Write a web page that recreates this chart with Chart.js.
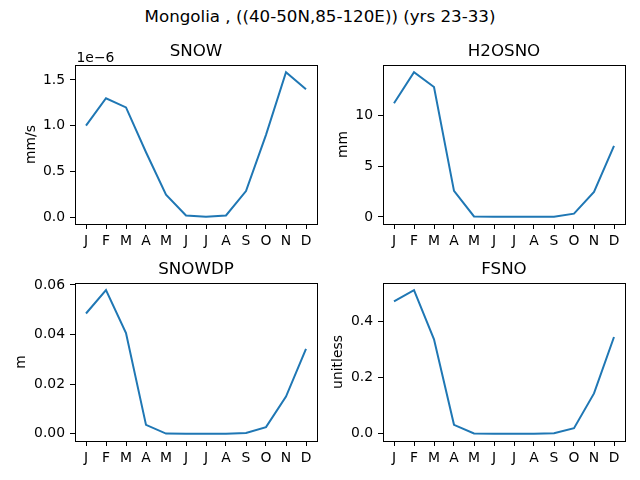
<!DOCTYPE html>
<html>
<head>
<meta charset="utf-8">
<script src="https://cdn.jsdelivr.net/npm/chart.js@4.4.1/dist/chart.umd.min.js"></script>
<style>
  html, body { margin: 0; padding: 0; background: #fff; }
  body { width: 640px; height: 480px; position: relative; overflow: hidden; font-family: 'DejaVu Sans', sans-serif; }
  #suptitle { position: absolute; left: 0; top: 6px; width: 640px; text-align: center; font-size: 16.7px; line-height: 20px; color: #000; }
  canvas { position: absolute; }
</style>
</head>
<body>
<div id="suptitle">Mongolia , ((40-50N,85-120E)) (yrs 23-33)</div>
<canvas id="snowChart"></canvas>
<canvas id="h2osnoChart"></canvas>
<canvas id="snowdpChart"></canvas>
<canvas id="fsnoChart"></canvas>
<script>
// months on the x axis
const months = ['J', 'F', 'M', 'A', 'M', 'J', 'J', 'A', 'S', 'O', 'N', 'D'];

// values
const snow   = [1.00e-6, 1.30e-6, 1.20e-6, 0.71e-6, 0.245e-6, 0.018e-6, 0.004e-6, 0.018e-6, 0.285e-6, 0.90e-6, 1.585e-6, 1.40e-6];
const h2osno = [11.2, 14.25, 12.8, 2.57, 0.05, 0.02, 0.02, 0.02, 0.03, 0.33, 2.47, 7.0];
const snowdp = [0.0485, 0.0579, 0.0406, 0.0036, 0.0001, 0.0, 0.0, 0.0, 0.0003, 0.0027, 0.015, 0.0342];
const fsno   = [0.472, 0.512, 0.337, 0.032, 0.001, 0.0, 0.0, 0.0, 0.002, 0.02, 0.144, 0.345];

// tick labels
const snowTicks   = [0, 0.5e-6, 1.0e-6, 1.5e-6];
const snowLabels  = ['0.0', '0.5', '1.0', '1.5'];
const h2osnoTicks = [0, 5, 10];
const h2osnoLabels = ['0', '5', '10'];
const snowdpTicks = [0, 0.02, 0.04, 0.06];
const snowdpLabels = ['0.00', '0.02', '0.04', '0.06'];
const fsnoTicks   = [0, 0.2, 0.4];
const fsnoLabels  = ['0.0', '0.2', '0.4'];

Chart.defaults.font.family = "'DejaVu Sans'";
Chart.defaults.font.size = 13.9;
Chart.defaults.color = '#000';

// frame, subplot title and offset text like matplotlib axes
const axesDeco = {
  id: 'axesDeco',
  afterDraw(chart, args, opts) {
    const ctx = chart.ctx, a = chart.chartArea;
    ctx.save();
    ctx.strokeStyle = '#000';
    ctx.lineWidth = 1;
    const l = Math.round(a.left) + 0.5, t = Math.round(a.top) + 0.5;
    const r = Math.round(a.right) + 0.5, b = Math.round(a.bottom) + 0.5;
    ctx.strokeRect(l, t, r - l, b - t);
    ctx.fillStyle = '#000';
    ctx.font = "16.7px 'DejaVu Sans'";
    ctx.textAlign = 'center';
    ctx.textBaseline = 'middle';
    ctx.fillText(opts.title, (a.left + a.right) / 2, a.top - 13.5);
    if (opts.offsetText) {
      ctx.font = "13.9px 'DejaVu Sans'";
      ctx.textAlign = 'left';
      ctx.textBaseline = 'alphabetic';
      ctx.fillText(opts.offsetText, a.left + 1.5, a.top - 3);
    }
    ctx.restore();
  }
};

function makePanel(id, box, title, unit, values, ticks, labels, offsetText) {
  const xH = 30, topH = 29, padR = 4;
  const L = Math.round(box.labelX - 8.35);
  const yW = box.left - L;
  const top = box.top - topH;
  const cv = document.getElementById(id);
  cv.width = box.right - L + padR;
  cv.height = box.bottom - top + xH;
  cv.style.left = L + 'px';
  cv.style.top = top + 'px';

  const lo = Math.min(...values), hi = Math.max(...values);
  const m = (hi - lo) * 0.05;

  new Chart(cv, {
    type: 'line',
    data: {
      datasets: [{
        data: values.map((v, i) => ({ x: i, y: v })),
        borderColor: '#1f77b4',
        borderWidth: 2,
        pointRadius: 0,
        tension: 0,
        fill: false
      }]
    },
    options: {
      responsive: false,
      animation: false,
      layout: { padding: { top: topH, right: padR, left: 0, bottom: 0 } },
      plugins: {
        legend: { display: false },
        tooltip: { enabled: false },
        axesDeco: { title: title, offsetText: offsetText }
      },
      scales: {
        x: {
          type: 'linear',
          min: -0.55,
          max: months.length - 1 + 0.55,
          afterBuildTicks: s => { s.ticks = months.map((mm, i) => ({ value: i })); },
          afterFit: s => { s.height = xH; },
          ticks: { autoSkip: false, maxRotation: 0, padding: 4, callback: v => months[v] },
          grid: { display: true, drawOnChartArea: false, drawTicks: true, tickLength: 5, color: '#000', lineWidth: 1 },
          border: { display: false }
        },
        y: {
          min: lo - m,
          max: hi + m,
          afterBuildTicks: s => { s.ticks = ticks.map(v => ({ value: v })); },
          afterFit: s => { s.width = yW; },
          ticks: { padding: 5, callback: (v, i) => labels[i] },
          grid: { display: true, drawOnChartArea: false, drawTicks: true, tickLength: 5, color: '#000', lineWidth: 1 },
          border: { display: false },
          title: { display: true, text: unit, padding: 0, font: { size: 13.9, lineHeight: 1.2 } }
        }
      }
    },
    plugins: [axesDeco]
  });
}

makePanel('snowChart',   { left: 75,  right: 317, top: 65,  bottom: 224, labelX: 31.5 }, 'SNOW',   'mm/s',     snow,   snowTicks,   snowLabels, '1e\u22126');
makePanel('h2osnoChart', { left: 383, right: 625, top: 65,  bottom: 224, labelX: 343.7 }, 'H2OSNO', 'mm',       h2osno, h2osnoTicks, h2osnoLabels);
makePanel('snowdpChart', { left: 75,  right: 317, top: 283, bottom: 441, labelX: 21.7 }, 'SNOWDP', 'm',        snowdp, snowdpTicks, snowdpLabels);
makePanel('fsnoChart',   { left: 383, right: 625, top: 283, bottom: 441, labelX: 338.7 }, 'FSNO',   'unitless', fsno,   fsnoTicks,   fsnoLabels);
</script>
</body>
</html>
